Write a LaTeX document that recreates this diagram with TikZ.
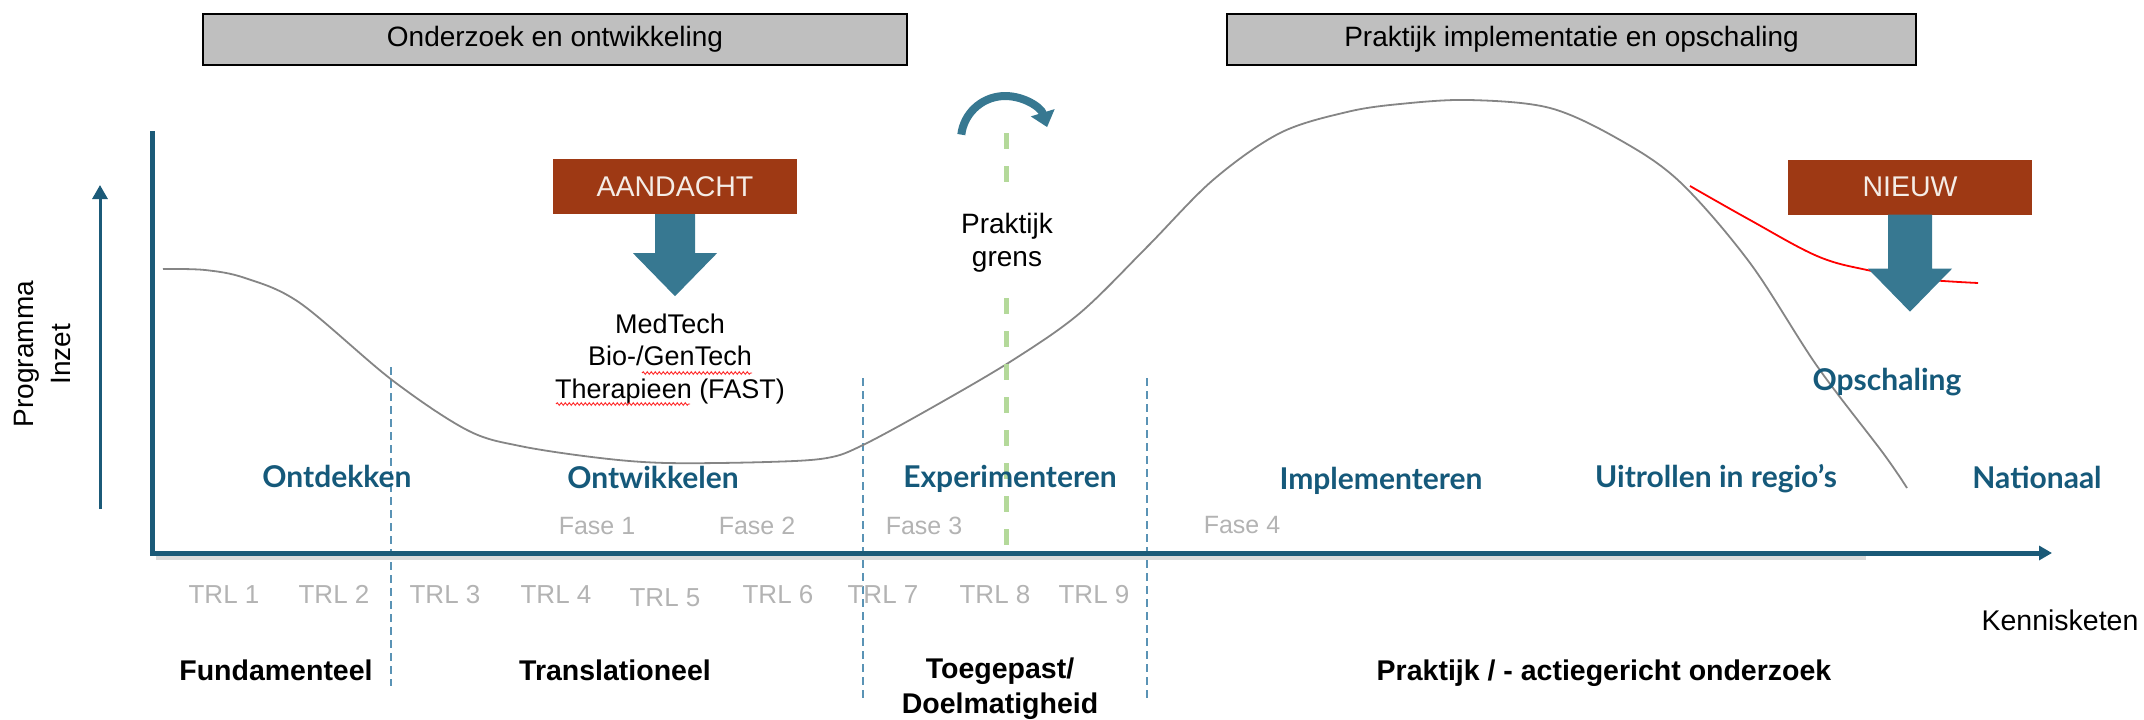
\documentclass[tikz,border=0pt]{standalone}
\usepackage{fontspec}
\setmainfont{Liberation Sans}
\newfontfamily\phasefont{Lato}
\usetikzlibrary{arrows.meta,decorations.pathmorphing}

\definecolor{axisblue}{HTML}{1B5A78}
\definecolor{phaseteal}{HTML}{15597A}
\definecolor{arrowteal}{HTML}{377891}
\definecolor{tagbrown}{HTML}{9E3914}
\definecolor{tagtext}{HTML}{F4ECE6}
\definecolor{bannergray}{HTML}{BFBFBF}
\definecolor{labelgray}{HTML}{B3B3B3}
\definecolor{curvegray}{HTML}{858585}
\definecolor{borderblue}{HTML}{5A93B5}
\definecolor{limegreen}{HTML}{B4D99A}

\begin{document}
\begin{tikzpicture}[x=1pt,y=-1pt,
  banner/.style={draw=black, line width=2.5pt, fill=bannergray, inner sep=0pt,
    minimum height=51pt, font=\fontsize{28}{33}\selectfont},
  tag/.style={fill=tagbrown, text=tagtext, inner sep=0pt, minimum width=244pt,
    minimum height=55pt, font=\fontsize{28.5}{33}\selectfont},
  blockarrow/.style={fill=arrowteal},
  plain/.style={font=\fontsize{28}{33}\selectfont, align=center, inner sep=0pt},
  phase/.style={text=phaseteal, font=\phasefont\bfseries\fontsize{30}{34}\selectfont, inner sep=0pt, anchor=base},
  fase/.style={text=labelgray, font=\fontsize{25}{30}\selectfont, inner sep=0pt, anchor=base},
  trl/.style={text=labelgray, font=\fontsize{26}{30}\selectfont, inner sep=0pt, anchor=base},
  kind/.style={font=\bfseries\fontsize{28.5}{35}\selectfont, align=center, inner sep=0pt, anchor=base},
  axis/.style={draw=axisblue, line width=5pt},
  divider/.style={draw=borderblue, line width=1.5pt, dash pattern=on 8pt off 5pt},
  spell/.style={draw=red!85!white, line width=0.9pt, decorate,
    decoration={snake, amplitude=1.3pt, segment length=4pt}}
]
\useasboundingbox (0,0) rectangle (2144,720);

% --- banners ---
\node[banner, minimum width=704pt] (rnd) at (555,39.5) {Onderzoek en ontwikkeling};
\node[banner, minimum width=689pt] (impl) at (1571.5,39.5) {Praktijk implementatie en opschaling};

% --- phase dividers ---
\coordinate (d1top) at (391,367);  \coordinate (d1bot) at (391,686);
\coordinate (d2top) at (863,378);  \coordinate (d2bot) at (863,698);
\coordinate (d3top) at (1147,378); \coordinate (d3bot) at (1147,700);
\draw[divider] (d1top) -- (d1bot);
\draw[divider] (d2top) -- (d2bot);
\draw[divider] (d3top) -- (d3bot);

% --- effort curve ---
\draw[curvegray, line width=1.8pt] plot[smooth, tension=0.55] coordinates {
  (163,269) (205,270) (245,278) (300,303) (392,380) (467,430) (520,446)
  (600,458) (667,463) (767,462) (827,458) (863,445) (933,407) (1013,360)
  (1080,313) (1147,247) (1213,180) (1280,133) (1347,112) (1400,104)
  (1469,100) (1550,108) (1620,140) (1680,182) (1750,263) (1817,366)
  (1883,453) (1907,488)};

% --- new trajectory ---
\draw[red, line width=1.8pt] plot[smooth, tension=0.6] coordinates {
  (1690,186) (1750,220) (1817,256) (1867,270) (1920,279) (1978,283)};

% --- axis shadow and axes ---
\draw[black!14, line width=4pt] (156,558) -- (1866,558);
\coordinate (ytop) at (152,131);
\coordinate (origin) at (152,553);
\coordinate (xend) at (2052,553);
\draw[axis, line join=miter, -{Triangle[length=13pt,width=14pt]}] (ytop) -- (origin) -- (xend);

% --- effort arrow and its label ---
\coordinate (effbot) at (100,509);
\coordinate (efftop) at (100,185);
\draw[axisblue, line width=3pt, -{Triangle[length=14pt,width=15pt]}] (effbot) -- (efftop);
\node[plain, rotate=90, font=\fontsize{28}{37}\selectfont] (effort) at (43,354) {Programma\\Inzet};

% --- practice boundary ---
\coordinate (gtop) at (1006,133);
\coordinate (gbot) at (1006,553);
\draw[limegreen, line width=5pt, dash pattern=on 16pt off 17pt] (gtop) -- (gbot);
\node[plain, fill=white, minimum height=88pt, inner xsep=8pt] (grens) at (1007,243) {Praktijk\\grens};
\coordinate (turnstart) at (961.3,134.6);
\coordinate (turnend) at (1047.1,127.1);
\draw[arrowteal, line width=8pt, -{Triangle[length=15pt,width=24pt]}]
  (turnstart) .. controls (963.8,114.0) and (980.5,98.0) .. (1001.2,96.2)
  .. controls (1021.9,94.4) and (1041.0,107.2) .. (turnend);

% --- attention tags with block arrows ---
\node[tag] (aandacht) at (675,186.5) {AANDACHT};
\fill[blockarrow] ([xshift=-20pt]aandacht.south) -- ++(0,39) -- ++(-22,0) -- ++(42,43)
  -- ++(42,-43) -- ++(-22,0) -- ++(0,-39) -- cycle;
\node[tag] (nieuw) at (1910,187) {NIEUW};
\fill[blockarrow] ([xshift=-22pt]nieuw.south) -- ++(0,54) -- ++(-20,0) -- ++(42,43)
  -- ++(42,-43) -- ++(-20,0) -- ++(0,-54) -- cycle;

% --- focus areas (base anchor sits on the last line) ---
\node[plain, anchor=base, font=\fontsize{27}{32.5}\selectfont] (focus) at (670,398)
  {MedTech\\Bio-/GenTech\\Therapieen (FAST)};
\draw[spell] (642,373) -- (752,373);
\draw[spell] (556,404) -- (690,404);

% --- phase names ---
\node[phase] (ontdekken) at (337,487) {Ontdekken};
\node[phase] (ontwikkelen) at (653,488) {Ontwikkelen};
\node[phase] (experimenteren) at (1010,487) {Experimenteren};
\node[phase] (implementeren) at (1381,489) {Implementeren};
\node[phase] (uitrollen) at (1716,487) {Uitrollen in regio’s};
\node[phase] (opschaling) at (1887,390) {Opschaling};
\node[phase] (nationaal) at (2037,488) {Nationaal};

% --- funding phases ---
\node[fase] (f1) at (597,534) {Fase 1};
\node[fase] (f2) at (757,534) {Fase 2};
\node[fase] (f3) at (924,534) {Fase 3};
\node[fase] (f4) at (1242,533) {Fase 4};

% --- technology readiness levels ---
\node[trl] (trl1) at (224,603) {TRL 1};
\node[trl] (trl2) at (334,603) {TRL 2};
\node[trl] (trl3) at (445,603) {TRL 3};
\node[trl] (trl4) at (556,603) {TRL 4};
\node[trl] (trl5) at (665,606) {TRL 5};
\node[trl] (trl6) at (778,603) {TRL 6};
\node[trl] (trl7) at (883,603) {TRL 7};
\node[trl] (trl8) at (995,603) {TRL 8};
\node[trl] (trl9) at (1094,603) {TRL 9};

\node[plain, anchor=base, font=\fontsize{28.5}{33}\selectfont] (keten) at (2060,630) {Kennisketen};

% --- research types ---
\node[kind] (fund) at (276,680) {Fundamenteel};
\node[kind] (trans) at (615,680) {Translationeel};
\node[kind] (toeg) at (1000,713) {Toegepast/\\Doelmatigheid};
\node[kind] (prak) at (1604,680) {Praktijk / - actiegericht onderzoek};
\end{tikzpicture}
\end{document}
